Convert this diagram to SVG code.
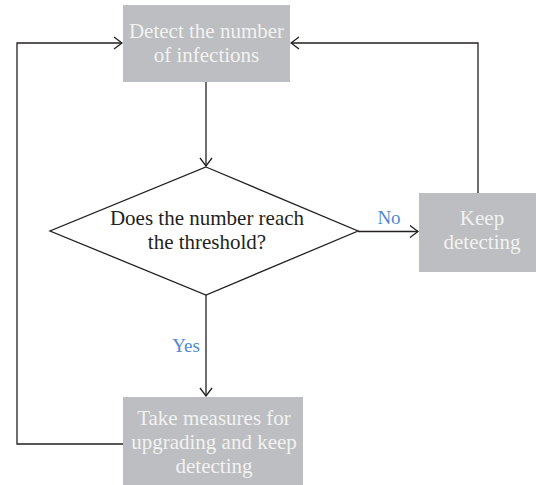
<svg xmlns="http://www.w3.org/2000/svg" width="536" height="485" viewBox="0 0 536 485">
<style>
.box{fill:#bdbec1;}
.bt{font-family:"Liberation Serif",serif;font-size:21px;fill:#f2f2f2;text-anchor:middle;}
.dt{font-family:"Liberation Serif",serif;font-size:21px;fill:#231f20;text-anchor:middle;}
.lbl{font-family:"Liberation Serif",serif;font-size:19px;fill:#4f8acb;text-anchor:middle;}
.ln{fill:none;stroke:#231f20;stroke-width:1.3;}
</style>
<defs>
<marker id="ah" viewBox="0 0 10 14" refX="9" refY="7" markerWidth="10" markerHeight="14" markerUnits="userSpaceOnUse" orient="auto">
<path d="M1,1 L9,7 L1,13" fill="none" stroke="#231f20" stroke-width="1.3"/>
</marker>
</defs>
<rect width="536" height="485" fill="#ffffff"/>
<g id="connectors">
<path class="ln" d="M206,82 V166" marker-end="url(#ah)"/>
<path class="ln" d="M358,231.5 H418" marker-end="url(#ah)"/>
<path class="ln" d="M478,193 V43 H291" marker-end="url(#ah)"/>
<path class="ln" d="M206,295 V396" marker-end="url(#ah)"/>
<path class="ln" d="M123,444 H17 V43 H122" marker-end="url(#ah)"/>
<text class="lbl" x="389" y="224">No</text>
<text class="lbl" x="186" y="352">Yes</text>
</g>
<g id="detect">
<rect class="box" x="123" y="5" width="167" height="77"/>
<text class="bt" x="206.5" y="38">Detect the number</text>
<text class="bt" x="206.5" y="62">of infections</text>
</g>
<g id="decision">
<polygon points="206,167 358,231 206,295 50,231" fill="#ffffff" stroke="#231f20" stroke-width="1.3"/>
<text class="dt" x="207" y="225">Does the number reach</text>
<text class="dt" x="207" y="249">the threshold?</text>
</g>
<g id="keep">
<rect class="box" x="419" y="193" width="126" height="79"/>
<text class="bt" x="482" y="225">Keep</text>
<text class="bt" x="482" y="249">detecting</text>
</g>
<g id="measures">
<rect class="box" x="123" y="397" width="180" height="90"/>
<text class="bt" x="214" y="425">Take measures for</text>
<text class="bt" x="214" y="449">upgrading and keep</text>
<text class="bt" x="214" y="473">detecting</text>
</g>
</svg>
